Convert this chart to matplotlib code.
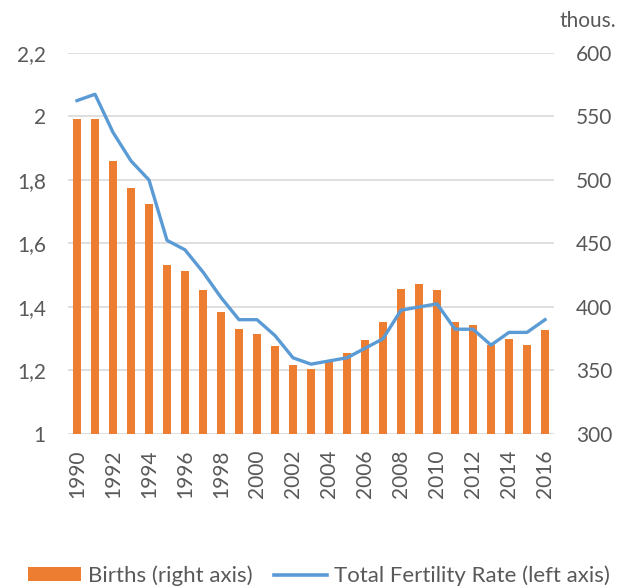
import matplotlib

matplotlib.use("Agg")
import matplotlib.pyplot as plt
from matplotlib.patches import Patch
from matplotlib.lines import Line2D

# ---- data ------------------------------------------------------------------
years = list(range(1990, 2017))
births = [548, 548, 515, 494, 481, 433, 428, 413, 396, 383, 379, 369, 354, 351,
          357, 364, 374, 388, 414, 418, 413, 388, 386, 370, 375, 370, 382]
tfr = [2.05, 2.07, 1.95, 1.86, 1.80, 1.61, 1.58, 1.51, 1.43, 1.36, 1.36, 1.31,
       1.24, 1.22, 1.23, 1.24, 1.27, 1.30, 1.39, 1.40, 1.41, 1.33, 1.33, 1.28,
       1.32, 1.32, 1.36]
left_ticks = [1.0, 1.2, 1.4, 1.6, 1.8, 2.0, 2.2]
left_labels = ["1", "1,2", "1,4", "1,6", "1,8", "2", "2,2"]
right_ticks = [300, 350, 400, 450, 500, 550, 600]

BAR = "#ED7D31"
LINE = "#5B9BD5"
INK = "#595959"
GRID = "#D9D9D9"
FS = 15

plt.rcParams["font.family"] = ["Lato", "DejaVu Sans"]

fig = plt.figure(figsize=(6.25, 5.88), dpi=100)
ax_r = fig.add_axes([0.1088, 0.2619, 0.7776, 0.648])
ax_l = ax_r.twinx()

# bars on right axis
ax_r.bar(years, births, width=0.4, color=BAR, zorder=3)
ax_r.set_ylim(300, 600)
ax_r.set_yticks(right_ticks)
ax_r.yaxis.tick_right()
ax_r.grid(axis="y", color=GRID, linewidth=1.2, zorder=0)
ax_r.set_axisbelow(True)

# line on left axis
ax_l.plot(years, tfr, color=LINE, linewidth=2.4, zorder=4,
          solid_joinstyle="round")
ax_l.set_ylim(1.0, 2.2)
ax_l.set_yticks(left_ticks)
ax_l.set_yticklabels(left_labels)
ax_l.yaxis.tick_left()

ax_r.set_xlim(1989.5, 2016.5)
ax_r.set_xticks(years[::2])
ax_r.set_xticklabels([str(y) for y in years[::2]], rotation=90)

for a in (ax_r, ax_l):
    for s in a.spines.values():
        s.set_visible(False)
    a.tick_params(length=0, labelsize=FS, colors=INK)
ax_r.tick_params(axis="x", pad=11)
ax_r.tick_params(axis="y", pad=16)
ax_l.tick_params(axis="y", pad=16)

fig.text(0.985, 0.965, "thous.", ha="right", va="center", fontsize=FS,
         color=INK)

handles = [Patch(facecolor=BAR, edgecolor="none"),
           Line2D([0], [0], color=LINE, linewidth=2.6)]
fig.legend(handles, ["Births (right axis)", "Total Fertility Rate (left axis)"],
           loc="center", bbox_to_anchor=(0.51, 0.021), ncol=2, frameon=False,
           fontsize=16, labelcolor=INK, handlelength=2.4, handleheight=0.6,
           handletextpad=0.3, columnspacing=0.95)

fig.savefig("out.png", dpi=100)
